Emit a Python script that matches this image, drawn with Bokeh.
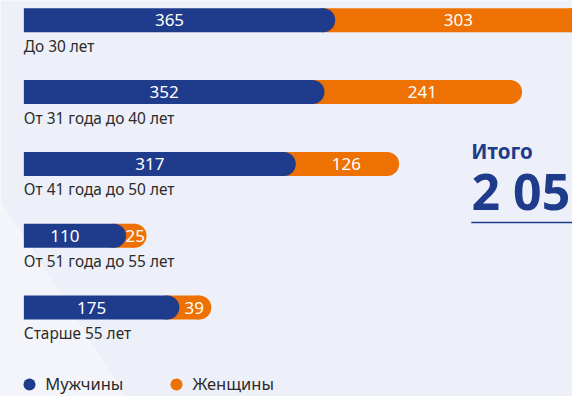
from bokeh.plotting import figure
from bokeh.models import (ColumnDataSource, Range1d, Label, Legend, LegendItem,
                          PolyAnnotation, BoxAnnotation)
from bokeh.core.properties import value
from bokeh.embed import file_html
from bokeh.resources import INLINE

# ---- data ----
categories = ["До 30 лет", "От 31 года до 40 лет", "От 41 года до 50 лет",
              "От 51 года до 55 лет", "Старше 55 лет"]
men = [365, 352, 317, 110, 175]
women = [303, 241, 126, 25, 39]
series_names = ["Мужчины", "Женщины"]
total_title = "Итого"

# ---- style ----
BLUE = "#1f3b8c"
ORANGE = "#ee7203"
BG = "#edf0f8"
BG_LIGHT = "#f4f5fa"
TEXT = "#2b2b2b"
FONT = "Noto Sans"

W, H = 572, 396
PX = 0.820      # px per unit
ROW = 71.85     # px per row
X0 = 23.35      # px where value 0 lies
Y0 = 19.7       # px where first row centre lies
BAR_H = 24

rows = list(range(len(categories)))
totals = [m + w for m, w in zip(men, women)]
src = ColumnDataSource(dict(
    row=rows, cat=categories, men=men, women=women, total=totals,
    men_mid=[m / 2 for m in men],
    women_mid=[(m + t) / 2 for m, t in zip(men, totals)],
    men_lbl=[str(m) for m in men],
    women_lbl=[str(w) for w in women],
))

p = figure(width=W, height=H,
           x_range=Range1d(-X0 / PX, (W - X0) / PX),
           y_range=Range1d((H - Y0) / ROW, -Y0 / ROW),
           output_backend="svg", toolbar_location=None,
           x_axis_location=None, y_axis_location=None,
           min_border=0, background_fill_color=BG, border_fill_color=BG,
           outline_line_color=None)
p.xgrid.grid_line_color = None
p.ygrid.grid_line_color = None

# lighter diagonal background area
p.add_layout(PolyAnnotation(xs=[0, 125.5, 0], ys=[196.1, 0, 0],
                            xs_units="screen", ys_units="screen",
                            fill_color=BG_LIGHT, fill_alpha=1.0,
                            line_color=None, level="underlay"))

bh = BAR_H / ROW
# women segments (drawn first, under the blue caps)
p.hbar(y="row", left="men", right="total", height=bh, source=src,
       fill_color=ORANGE, line_color=None)
r_w = p.scatter(x="total", y="row", size=BAR_H, source=src,
                fill_color=ORANGE, line_color=None)
# men segments
p.hbar(y="row", left=0, right="men", height=bh, source=src,
       fill_color=BLUE, line_color=None)
r_m = p.scatter(x="men", y="row", size=BAR_H, source=src,
                fill_color=BLUE, line_color=None)

# value labels
p.text(x="men_mid", y="row", text="men_lbl", source=src, x_offset=-4,
       text_color="white", text_font=value(FONT), text_font_size="17px",
       text_align="center", text_baseline="middle")
p.text(x="women_mid", y="row", text="women_lbl", source=src, x_offset=11,
       text_color="white", text_font=value(FONT), text_font_size="17px",
       text_align="center", text_baseline="middle")

# category labels
p.text(x=0, y="row", text="cat", source=src, y_offset=26,
       text_color=TEXT, text_font=value(FONT), text_font_size="15.4px",
       text_align="left", text_baseline="middle")

# legend
legend = Legend(items=[LegendItem(label=series_names[0], renderers=[r_m]),
                       LegendItem(label=series_names[1], renderers=[r_w])],
                orientation="horizontal", location=(14.2, -2.5),
                glyph_width=30, glyph_height=30, label_standoff=1,
                spacing=38, padding=0, margin=0,
                background_fill_alpha=0, border_line_color=None,
                label_text_font=FONT, label_text_font_size="16.5px",
                label_text_color=TEXT)
p.add_layout(legend)

# total block
total = sum(totals)
p.add_layout(Label(x=470.8, y=H - 150, x_units="screen", y_units="screen",
                   text=total_title, text_font=FONT, text_font_size="20.5px",
                   text_font_style="bold", text_color=BLUE,
                   text_baseline="middle"))
p.add_layout(Label(x=471, y=H - 190, x_units="screen", y_units="screen",
                   text=f"{total:,}".replace(",", " "), text_font=FONT,
                   text_font_size="50px", text_font_style="bold",
                   text_color=BLUE, text_baseline="middle"))
p.add_layout(BoxAnnotation(left=470.8, right=W, top=H - 221.3, bottom=H - 222.8,
                           left_units="screen", right_units="screen",
                           top_units="screen", bottom_units="screen",
                           fill_color=BLUE, fill_alpha=1.0, line_color=None))

open("out.html", "w").write(file_html(p, INLINE))
